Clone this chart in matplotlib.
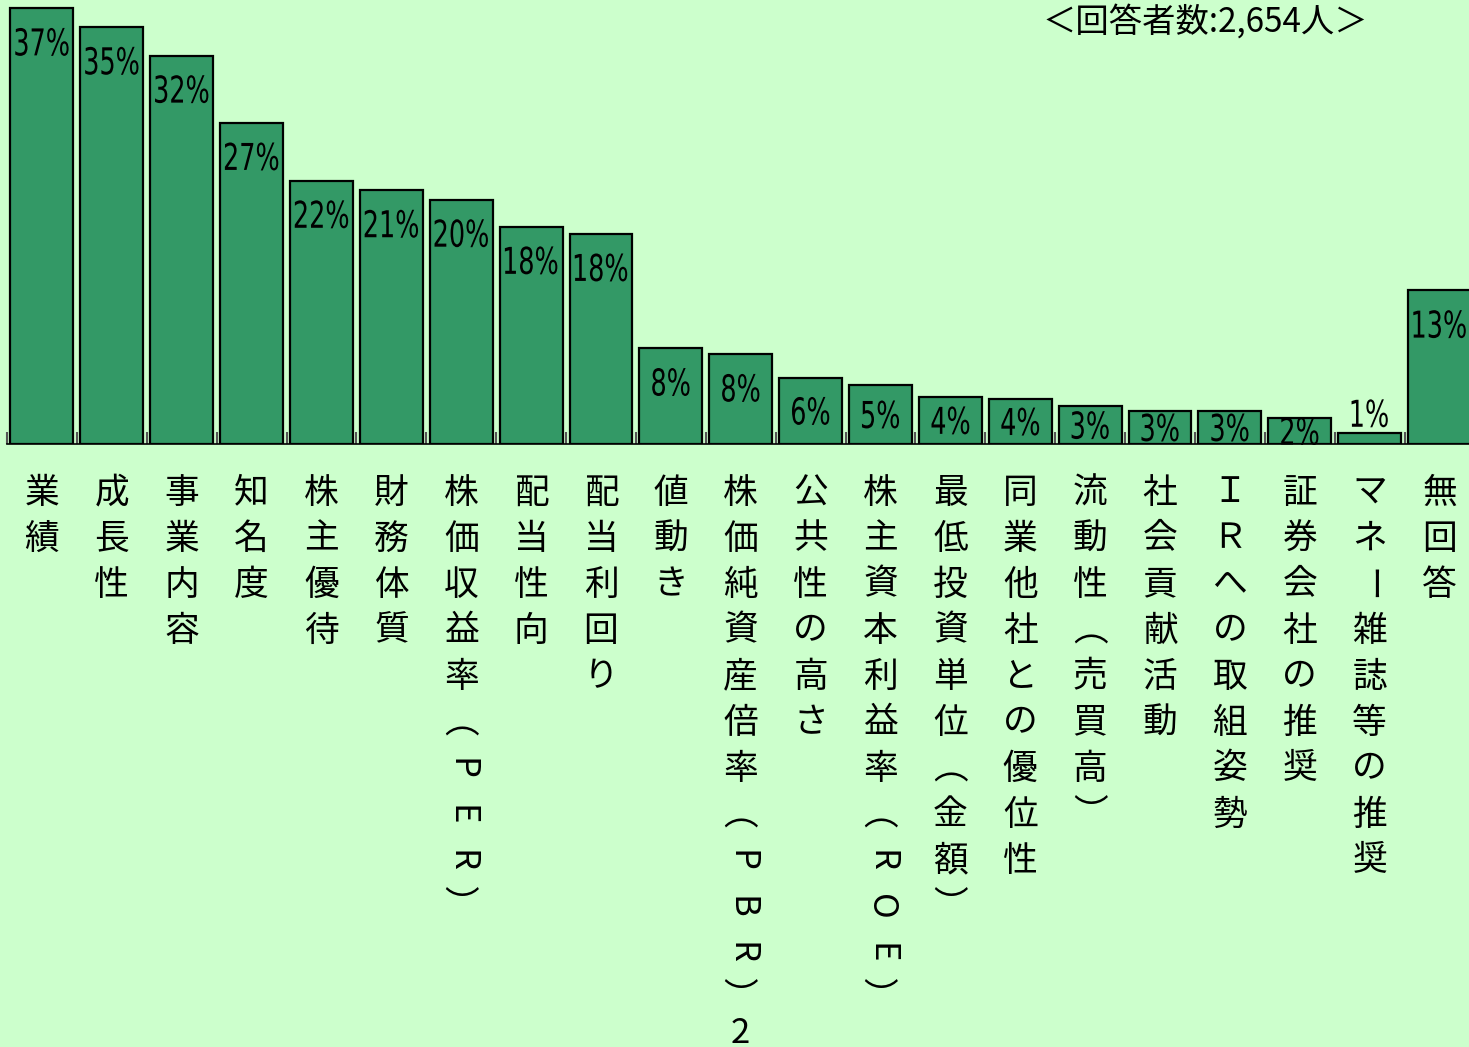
import matplotlib.pyplot as plt
from matplotlib.textpath import TextPath
from matplotlib.patches import PathPatch
from matplotlib.font_manager import FontProperties
from matplotlib.transforms import Affine2D

plt.rcParams['font.family'] = ['Noto Sans CJK JP', 'DejaVu Sans']

# 項目（縦書き）
categories = [
    "業績", "成長性", "事業内容", "知名度", "株主優待", "財務体質",
    "株価収益率（PER）", "配当性向", "配当利回り", "値動き",
    "株価純資産倍率（PBR）2", "公共性の高さ", "株主資本利益率（ROE）",
    "最低投資単位（金額）", "同業他社との優位性", "流動性（売買高）",
    "社会貢献活動", "ＩＲへの取組姿勢", "証券会社の推奨", "マネー雑誌等の推奨", "無回答",
]
values = [36.9, 35.3, 32.9, 27.2, 22.3, 21.5, 20.7, 18.4, 17.8, 8.1,
          7.6, 5.6, 5.0, 4.0, 3.8, 3.2, 2.8, 2.8, 2.2, 0.9, 13.0]
labels = [37, 35, 32, 27, 22, 21, 20, 18, 18, 8,
          8, 6, 5, 4, 4, 3, 3, 3, 2, 1, 13]
title = "＜回答者数:2,654人＞"

ROTATED = set("ーPERBO")
VERTICAL = {"（": "︵", "）": "︶"}
HALF = set("2")

W, H = 1469, 1047
fig = plt.figure(figsize=(W / 100, H / 100), dpi=100)
fig.patch.set_facecolor('#CCFFCC')

base = 444
ax = fig.add_axes([7 / W, (H - base) / H, 1467.5 / W, base / H])
ax.set_facecolor('#CCFFCC')

x = list(range(len(values)))
ax.bar(x, values, width=0.9, color='#339966', edgecolor='black', linewidth=1.6, zorder=3)
ax.set_xlim(-0.5, len(values) - 0.5)
ax.set_ylim(0, 37.6)

for s in ['left', 'right', 'top']:
    ax.spines[s].set_visible(False)
ax.spines['bottom'].set_linewidth(1.2)
ax.set_yticks([])
ax.set_xticks([])
ax.set_xticks([i - 0.5 for i in x], minor=True)
ax.tick_params(axis='x', which='minor', direction='in', length=8.5, width=1.5,
               color='#555555', labelbottom=False)

# 値ラベル（細めの数字にするため横方向に圧縮したパスで描く）
p0 = ax.transData.transform((0, 0))
p1 = ax.transData.transform((1, 1))
px_x, px_y = p1[0] - p0[0], p1[1] - p0[1]
prop = FontProperties(family='DejaVu Sans')
kx, ky = 25.5, 37.0  # 文字の横・縦の拡大率（ピクセル）
for xi, v, lab in zip(x, values, labels):
    if v < 1.5:
        y = v + 1.7
    else:
        y = max(v - 2.85, v / 2)
    tp = TextPath((0, 0), f"{lab}%", size=1, prop=prop)
    ext = tp.get_extents()
    cx, cy = (ext.x0 + ext.x1) / 2, (ext.y0 + ext.y1) / 2
    tr = Affine2D().translate(-cx, -cy).scale(kx / px_x, ky / px_y).translate(xi, y)
    ax.add_patch(PathPatch(tp, transform=tr + ax.transData, facecolor='black',
                           edgecolor='none', zorder=4, clip_on=False))

# 縦書きの項目名
step = 46
for xi, cat in zip(x, categories):
    off = 49
    for ch in cat:
        if ch in HALF:
            off_c = off - step / 4
            off += step / 2
        else:
            off_c = off
            off += step
        ax.annotate(VERTICAL.get(ch, ch), xy=(xi, 0), xytext=(0, -off_c),
                    textcoords='offset pixels',
                    ha='center', va='center', fontsize=25,
                    rotation=-90 if ch in ROTATED else 0,
                    rotation_mode='anchor', annotation_clip=False)

fig.text(1205 / W, 1 - 22 / H, title, ha='center', va='center', fontsize=24)

fig.savefig('out.png', dpi=100, facecolor=fig.get_facecolor())
